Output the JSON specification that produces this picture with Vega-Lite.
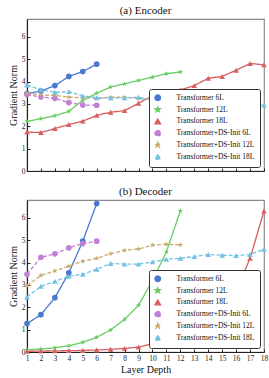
{
  "$schema": "https://vega.github.io/schema/vega-lite/v6.json",
  "padding": {"left": 7, "top": 4, "right": 0, "bottom": 2},
  "datasets": {
    "enc": [
      {"series":"Transformer 6L","layer":1,"norm":3.46},{"series":"Transformer 6L","layer":2,"norm":3.58},{"series":"Transformer 6L","layer":3,"norm":3.82},{"series":"Transformer 6L","layer":4,"norm":4.23},{"series":"Transformer 6L","layer":5,"norm":4.45},{"series":"Transformer 6L","layer":6,"norm":4.78},
      {"series":"Transformer 12L","layer":1,"norm":2.22},{"series":"Transformer 12L","layer":2,"norm":2.34},{"series":"Transformer 12L","layer":3,"norm":2.47},{"series":"Transformer 12L","layer":4,"norm":2.67},{"series":"Transformer 12L","layer":5,"norm":3.16},{"series":"Transformer 12L","layer":6,"norm":3.48},{"series":"Transformer 12L","layer":7,"norm":3.76},{"series":"Transformer 12L","layer":8,"norm":3.9},{"series":"Transformer 12L","layer":9,"norm":4.05},{"series":"Transformer 12L","layer":10,"norm":4.2},{"series":"Transformer 12L","layer":11,"norm":4.35},{"series":"Transformer 12L","layer":12,"norm":4.43},
      {"series":"Transformer 18L","layer":1,"norm":1.74},{"series":"Transformer 18L","layer":2,"norm":1.72},{"series":"Transformer 18L","layer":3,"norm":1.9},{"series":"Transformer 18L","layer":4,"norm":2.08},{"series":"Transformer 18L","layer":5,"norm":2.23},{"series":"Transformer 18L","layer":6,"norm":2.49},{"series":"Transformer 18L","layer":7,"norm":2.63},{"series":"Transformer 18L","layer":8,"norm":2.7},{"series":"Transformer 18L","layer":9,"norm":3.03},{"series":"Transformer 18L","layer":10,"norm":3.37},{"series":"Transformer 18L","layer":11,"norm":3.49},{"series":"Transformer 18L","layer":12,"norm":3.63},{"series":"Transformer 18L","layer":13,"norm":3.82},{"series":"Transformer 18L","layer":14,"norm":4.15},{"series":"Transformer 18L","layer":15,"norm":4.23},{"series":"Transformer 18L","layer":16,"norm":4.51},{"series":"Transformer 18L","layer":17,"norm":4.81},{"series":"Transformer 18L","layer":18,"norm":4.75},
      {"series":"Transformer+DS-Init 6L","layer":1,"norm":3.42},{"series":"Transformer+DS-Init 6L","layer":2,"norm":3.31},{"series":"Transformer+DS-Init 6L","layer":3,"norm":3.25},{"series":"Transformer+DS-Init 6L","layer":4,"norm":3.06},{"series":"Transformer+DS-Init 6L","layer":5,"norm":2.95},{"series":"Transformer+DS-Init 6L","layer":6,"norm":2.94},
      {"series":"Transformer+DS-Init 12L","layer":1,"norm":3.48},{"series":"Transformer+DS-Init 12L","layer":2,"norm":3.4},{"series":"Transformer+DS-Init 12L","layer":3,"norm":3.38},{"series":"Transformer+DS-Init 12L","layer":4,"norm":3.3},{"series":"Transformer+DS-Init 12L","layer":5,"norm":3.28},{"series":"Transformer+DS-Init 12L","layer":6,"norm":3.24},{"series":"Transformer+DS-Init 12L","layer":7,"norm":3.3},{"series":"Transformer+DS-Init 12L","layer":8,"norm":3.3},{"series":"Transformer+DS-Init 12L","layer":9,"norm":3.25},{"series":"Transformer+DS-Init 12L","layer":10,"norm":3.2},{"series":"Transformer+DS-Init 12L","layer":11,"norm":3.2},{"series":"Transformer+DS-Init 12L","layer":12,"norm":3.2},
      {"series":"Transformer+DS-Init 18L","layer":1,"norm":3.85},{"series":"Transformer+DS-Init 18L","layer":2,"norm":3.63},{"series":"Transformer+DS-Init 18L","layer":3,"norm":3.52},{"series":"Transformer+DS-Init 18L","layer":4,"norm":3.55},{"series":"Transformer+DS-Init 18L","layer":5,"norm":3.36},{"series":"Transformer+DS-Init 18L","layer":6,"norm":3.28},{"series":"Transformer+DS-Init 18L","layer":7,"norm":3.27},{"series":"Transformer+DS-Init 18L","layer":8,"norm":3.27},{"series":"Transformer+DS-Init 18L","layer":9,"norm":3.3},{"series":"Transformer+DS-Init 18L","layer":10,"norm":3.16},{"series":"Transformer+DS-Init 18L","layer":11,"norm":3.2},{"series":"Transformer+DS-Init 18L","layer":12,"norm":3.18},{"series":"Transformer+DS-Init 18L","layer":13,"norm":3.18},{"series":"Transformer+DS-Init 18L","layer":14,"norm":3.18},{"series":"Transformer+DS-Init 18L","layer":15,"norm":3.0},{"series":"Transformer+DS-Init 18L","layer":16,"norm":2.98},{"series":"Transformer+DS-Init 18L","layer":17,"norm":2.98},{"series":"Transformer+DS-Init 18L","layer":18,"norm":2.95}
    ],
    "dec": [
      {"series":"Transformer 6L","layer":1,"norm":1.27},{"series":"Transformer 6L","layer":2,"norm":1.67},{"series":"Transformer 6L","layer":3,"norm":2.43},{"series":"Transformer 6L","layer":4,"norm":3.54},{"series":"Transformer 6L","layer":5,"norm":4.96},{"series":"Transformer 6L","layer":6,"norm":6.64},
      {"series":"Transformer 12L","layer":1,"norm":0.1},{"series":"Transformer 12L","layer":2,"norm":0.13},{"series":"Transformer 12L","layer":3,"norm":0.19},{"series":"Transformer 12L","layer":4,"norm":0.28},{"series":"Transformer 12L","layer":5,"norm":0.43},{"series":"Transformer 12L","layer":6,"norm":0.66},{"series":"Transformer 12L","layer":7,"norm":0.99},{"series":"Transformer 12L","layer":8,"norm":1.46},{"series":"Transformer 12L","layer":9,"norm":2.09},{"series":"Transformer 12L","layer":10,"norm":3.2},{"series":"Transformer 12L","layer":11,"norm":4.48},{"series":"Transformer 12L","layer":12,"norm":6.31},
      {"series":"Transformer 18L","layer":1,"norm":0.03},{"series":"Transformer 18L","layer":2,"norm":0.04},{"series":"Transformer 18L","layer":3,"norm":0.05},{"series":"Transformer 18L","layer":4,"norm":0.06},{"series":"Transformer 18L","layer":5,"norm":0.07},{"series":"Transformer 18L","layer":6,"norm":0.09},{"series":"Transformer 18L","layer":7,"norm":0.12},{"series":"Transformer 18L","layer":8,"norm":0.16},{"series":"Transformer 18L","layer":9,"norm":0.22},{"series":"Transformer 18L","layer":10,"norm":0.37},{"series":"Transformer 18L","layer":11,"norm":0.55},{"series":"Transformer 18L","layer":12,"norm":0.75},{"series":"Transformer 18L","layer":13,"norm":1.0},{"series":"Transformer 18L","layer":14,"norm":1.35},{"series":"Transformer 18L","layer":15,"norm":1.87},{"series":"Transformer 18L","layer":16,"norm":2.73},{"series":"Transformer 18L","layer":17,"norm":4.19},{"series":"Transformer 18L","layer":18,"norm":6.31},
      {"series":"Transformer+DS-Init 6L","layer":1,"norm":3.48},{"series":"Transformer+DS-Init 6L","layer":2,"norm":4.24},{"series":"Transformer+DS-Init 6L","layer":3,"norm":4.39},{"series":"Transformer+DS-Init 6L","layer":4,"norm":4.66},{"series":"Transformer+DS-Init 6L","layer":5,"norm":4.85},{"series":"Transformer+DS-Init 6L","layer":6,"norm":4.96},
      {"series":"Transformer+DS-Init 12L","layer":1,"norm":2.97},{"series":"Transformer+DS-Init 12L","layer":2,"norm":3.43},{"series":"Transformer+DS-Init 12L","layer":3,"norm":3.63},{"series":"Transformer+DS-Init 12L","layer":4,"norm":3.84},{"series":"Transformer+DS-Init 12L","layer":5,"norm":4.06},{"series":"Transformer+DS-Init 12L","layer":6,"norm":4.19},{"series":"Transformer+DS-Init 12L","layer":7,"norm":4.4},{"series":"Transformer+DS-Init 12L","layer":8,"norm":4.55},{"series":"Transformer+DS-Init 12L","layer":9,"norm":4.61},{"series":"Transformer+DS-Init 12L","layer":10,"norm":4.78},{"series":"Transformer+DS-Init 12L","layer":11,"norm":4.82},{"series":"Transformer+DS-Init 12L","layer":12,"norm":4.79},
      {"series":"Transformer+DS-Init 18L","layer":1,"norm":2.46},{"series":"Transformer+DS-Init 18L","layer":2,"norm":2.94},{"series":"Transformer+DS-Init 18L","layer":3,"norm":3.16},{"series":"Transformer+DS-Init 18L","layer":4,"norm":3.39},{"series":"Transformer+DS-Init 18L","layer":5,"norm":3.48},{"series":"Transformer+DS-Init 18L","layer":6,"norm":3.7},{"series":"Transformer+DS-Init 18L","layer":7,"norm":3.96},{"series":"Transformer+DS-Init 18L","layer":8,"norm":3.93},{"series":"Transformer+DS-Init 18L","layer":9,"norm":3.93},{"series":"Transformer+DS-Init 18L","layer":10,"norm":4.03},{"series":"Transformer+DS-Init 18L","layer":11,"norm":4.15},{"series":"Transformer+DS-Init 18L","layer":12,"norm":4.19},{"series":"Transformer+DS-Init 18L","layer":13,"norm":4.27},{"series":"Transformer+DS-Init 18L","layer":14,"norm":4.36},{"series":"Transformer+DS-Init 18L","layer":15,"norm":4.33},{"series":"Transformer+DS-Init 18L","layer":16,"norm":4.31},{"series":"Transformer+DS-Init 18L","layer":17,"norm":4.36},{"series":"Transformer+DS-Init 18L","layer":18,"norm":4.6}
    ]
  },
  "spacing": 9,
  "resolve": {"legend": {"color": "independent", "shape": "independent", "strokeDash": "independent"}},
  "vconcat": [
    {
      "title": "(a) Encoder",
      "width": 237,
      "height": 152,
      "data": {"name": "enc"},
      "encoding": {
        "x": {"field": "layer", "type": "quantitative", "scale": {"domain": [1, 18], "nice": false}, "axis": {"values": [1,2,3,4,5,6,7,8,9,10,11,12,13,14,15,16,17,18], "labels": false, "title": null}},
        "y": {"field": "norm", "type": "quantitative", "scale": {"domain": [0, 6.8], "nice": false}, "axis": {"values": [0,1,2,3,4,5,6], "title": "Gradient Norm"}},
        "color": {"field": "series", "type": "nominal", "scale": {"domain": ["Transformer 6L","Transformer 12L","Transformer 18L","Transformer+DS-Init 6L","Transformer+DS-Init 12L","Transformer+DS-Init 18L"], "range": ["#4878d0","#6acc64","#d65f5f","#c27fd6","#c9ab6c","#74c0e2"]}, "legend": {"title": null}}
      },
      "layer": [
        {"mark": {"type": "line", "strokeWidth": 1.3}, "encoding": {"strokeDash": {"field": "series", "type": "nominal", "scale": {"domain": ["Transformer 6L","Transformer 12L","Transformer 18L","Transformer+DS-Init 6L","Transformer+DS-Init 12L","Transformer+DS-Init 18L"], "range": [[1,0],[1,0],[1,0],[4,2],[4,2],[4,2]]}, "legend": {"title": null}}}},
        {"mark": {"type": "point", "filled": true, "opacity": 1, "size": 32}, "encoding": {"shape": {"field": "series", "type": "nominal", "scale": {"domain": ["Transformer 6L","Transformer 12L","Transformer 18L","Transformer+DS-Init 6L","Transformer+DS-Init 12L","Transformer+DS-Init 18L"], "range": ["circle","M0,-1L0.235,-0.324L0.951,-0.309L0.38,0.124L0.588,0.809L0,0.4L-0.588,0.809L-0.38,0.124L-0.951,-0.309L-0.235,-0.324Z","triangle-up","circle","M0,-1L0.235,-0.324L0.951,-0.309L0.38,0.124L0.588,0.809L0,0.4L-0.588,0.809L-0.38,0.124L-0.951,-0.309L-0.235,-0.324Z","triangle-up"]}, "legend": {"title": null}}}}
      ]
    },
    {
      "title": "(b) Decoder",
      "width": 237,
      "height": 152,
      "data": {"name": "dec"},
      "encoding": {
        "x": {"field": "layer", "type": "quantitative", "scale": {"domain": [1, 18], "nice": false}, "axis": {"values": [1,2,3,4,5,6,7,8,9,10,11,12,13,14,15,16,17,18], "title": "Layer Depth"}},
        "y": {"field": "norm", "type": "quantitative", "scale": {"domain": [0, 6.8], "nice": false}, "axis": {"values": [0,1,2,3,4,5,6], "title": "Gradient Norm"}},
        "color": {"field": "series", "type": "nominal", "scale": {"domain": ["Transformer 6L","Transformer 12L","Transformer 18L","Transformer+DS-Init 6L","Transformer+DS-Init 12L","Transformer+DS-Init 18L"], "range": ["#4878d0","#6acc64","#d65f5f","#c27fd6","#c9ab6c","#74c0e2"]}, "legend": {"title": null}}
      },
      "layer": [
        {"mark": {"type": "line", "strokeWidth": 1.3}, "encoding": {"strokeDash": {"field": "series", "type": "nominal", "scale": {"domain": ["Transformer 6L","Transformer 12L","Transformer 18L","Transformer+DS-Init 6L","Transformer+DS-Init 12L","Transformer+DS-Init 18L"], "range": [[1,0],[1,0],[1,0],[4,2],[4,2],[4,2]]}, "legend": {"title": null}}}},
        {"mark": {"type": "point", "filled": true, "opacity": 1, "size": 32}, "encoding": {"shape": {"field": "series", "type": "nominal", "scale": {"domain": ["Transformer 6L","Transformer 12L","Transformer 18L","Transformer+DS-Init 6L","Transformer+DS-Init 12L","Transformer+DS-Init 18L"], "range": ["circle","M0,-1L0.235,-0.324L0.951,-0.309L0.38,0.124L0.588,0.809L0,0.4L-0.588,0.809L-0.38,0.124L-0.951,-0.309L-0.235,-0.324Z","triangle-up","circle","M0,-1L0.235,-0.324L0.951,-0.309L0.38,0.124L0.588,0.809L0,0.4L-0.588,0.809L-0.38,0.124L-0.951,-0.309L-0.235,-0.324Z","triangle-up"]}, "legend": {"title": null}}}}
      ]
    }
  ],
  "config": {
    "font": "Liberation Serif",
    "view": {"stroke": "#8a8a8a", "strokeWidth": 1.2},
    "title": {"font": "Liberation Serif", "fontSize": 11, "fontWeight": "normal", "color": "#111", "offset": 3},
    "axis": {"grid": false, "domainColor": "#222", "domainWidth": 1.1, "tickColor": "#222", "tickSize": -3, "labelFont": "Liberation Serif", "labelFontSize": 7.5, "labelColor": "#222", "labelPadding": 5, "titleFont": "Liberation Serif", "titleFontSize": 10, "titleFontWeight": "normal", "titleColor": "#111", "titlePadding": 3},
    "axisX": {"labelFlush": false, "labelAngle": 0},
    "legend": {"orient": "bottom-right", "offset": 4, "strokeColor": "#333", "fillColor": "white", "padding": 5, "cornerRadius": 2, "labelFont": "Liberation Serif", "labelFontSize": 7.5, "labelColor": "#111", "rowPadding": 0.8, "symbolSize": 32, "symbolStrokeWidth": 1.2, "labelOffset": 15}
  }
}
